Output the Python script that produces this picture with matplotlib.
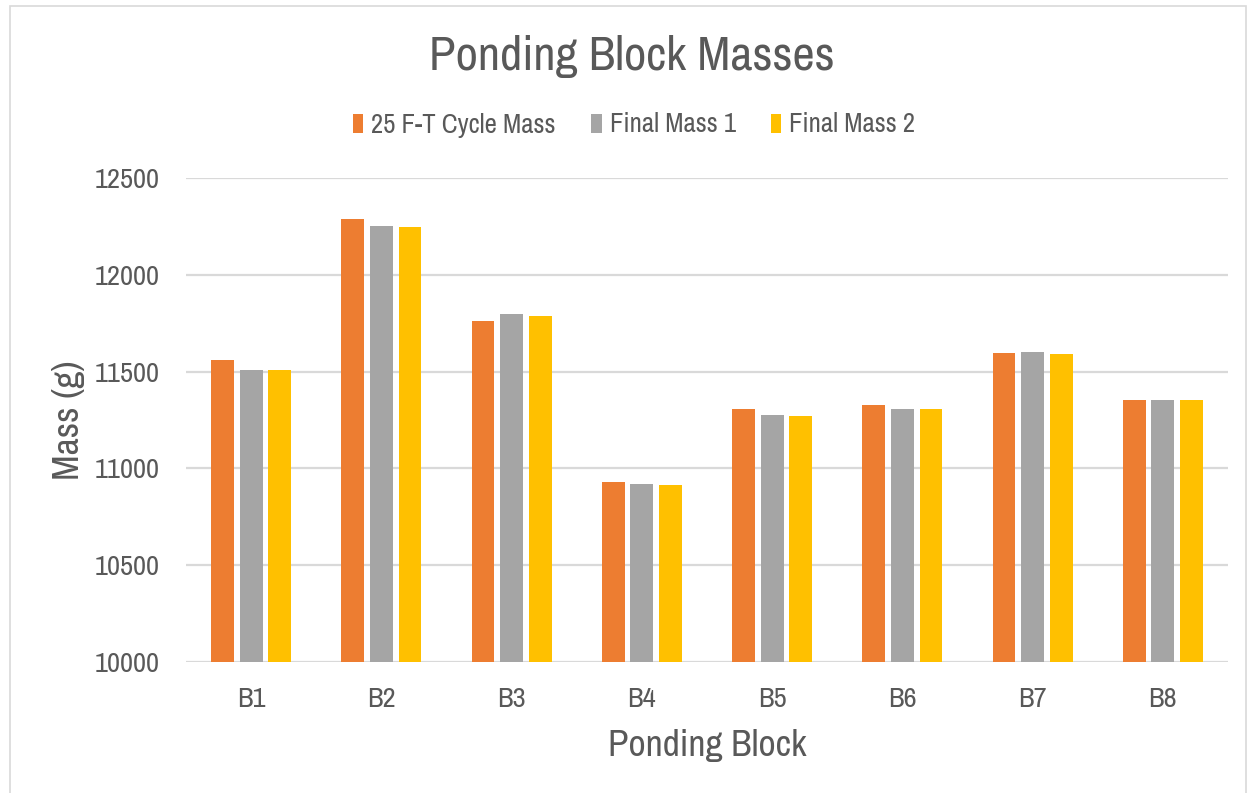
"""Ponding block masses - grouped bar chart"""
import matplotlib.pyplot as plt
import numpy as np
from matplotlib.patches import Rectangle

plt.rcParams['font.family'] = ['Liberation Sans Narrow', 'Archivo Narrow',
                               'PT Sans Narrow', 'Roboto Condensed',
                               'Liberation Sans', 'DejaVu Sans']

TXT = '#595959'
ORANGE = '#ED7D31'
GRAY = '#A5A5A5'
YELLOW = '#FFC000'

blocks = ['B1', 'B2', 'B3', 'B4', 'B5', 'B6', 'B7', 'B8']
cycle_mass = [11562, 12289, 11763, 10929, 11309, 11325, 11596, 11354]
final_mass_1 = [11510, 12253, 11797, 10918, 11277, 11309, 11603, 11354]
final_mass_2 = [11507, 12249, 11789, 10914, 11273, 11308, 11593, 11351]
series_names = ['25 F-T Cycle Mass', 'Final Mass 1', 'Final Mass 2']
y_ticks = [10000, 10500, 11000, 11500, 12000, 12500]

fig = plt.figure(figsize=(12.52, 7.93), dpi=100)
ax = fig.add_axes([186 / 1252, 1 - 662 / 793, (1228 - 186) / 1252, (662 - 178) / 793])

x = np.arange(len(blocks))
step = 0.22
w = 0.175
for i, (vals, col) in enumerate(zip([cycle_mass, final_mass_1, final_mass_2],
                                    [ORANGE, GRAY, YELLOW])):
    ax.bar(x + (i - 1) * step, vals, width=w, color=col, label=series_names[i],
           zorder=3)

ax.set_xlim(-0.5, len(blocks) - 0.5)
ax.set_ylim(y_ticks[0], y_ticks[-1])
ax.set_yticks(y_ticks)
ax.set_xticks(x)
ax.set_xticklabels(blocks)
ax.tick_params(length=0, labelsize=20.5, labelcolor=TXT)
ax.tick_params(axis='y', pad=19)
ax.tick_params(axis='x', pad=18)
ax.grid(axis='y', color='#D9D9D9', linewidth=1.6, zorder=0)
ax.set_axisbelow(True)
for s in ax.spines.values():
    s.set_visible(False)

ax.set_xlabel('Ponding Block', fontsize=27, color=TXT, labelpad=12)
ax.set_ylabel('Mass (g)', fontsize=27, color=TXT, labelpad=7)

fig.text(632 / 1252, 1 - 57 / 793, 'Ponding Block Masses', fontsize=35,
         color=TXT, ha='center', va='center')

leg = fig.legend(loc='center', bbox_to_anchor=(634 / 1252, 1 - 125 / 793),
                 ncol=3, frameon=False, fontsize=19.3, handlelength=0.4,
                 handleheight=0.7, handletextpad=0.3, columnspacing=1.3)
for t in leg.get_texts():
    t.set_color(TXT)

# chart area border
fig.patches.append(Rectangle((10 / 1252, -0.02), 1236 / 1252, 1.02 - 6 / 793,
                             transform=fig.transFigure, fill=False,
                             edgecolor='#D9D9D9', linewidth=1.2))

fig.savefig('out.png', dpi=100)
